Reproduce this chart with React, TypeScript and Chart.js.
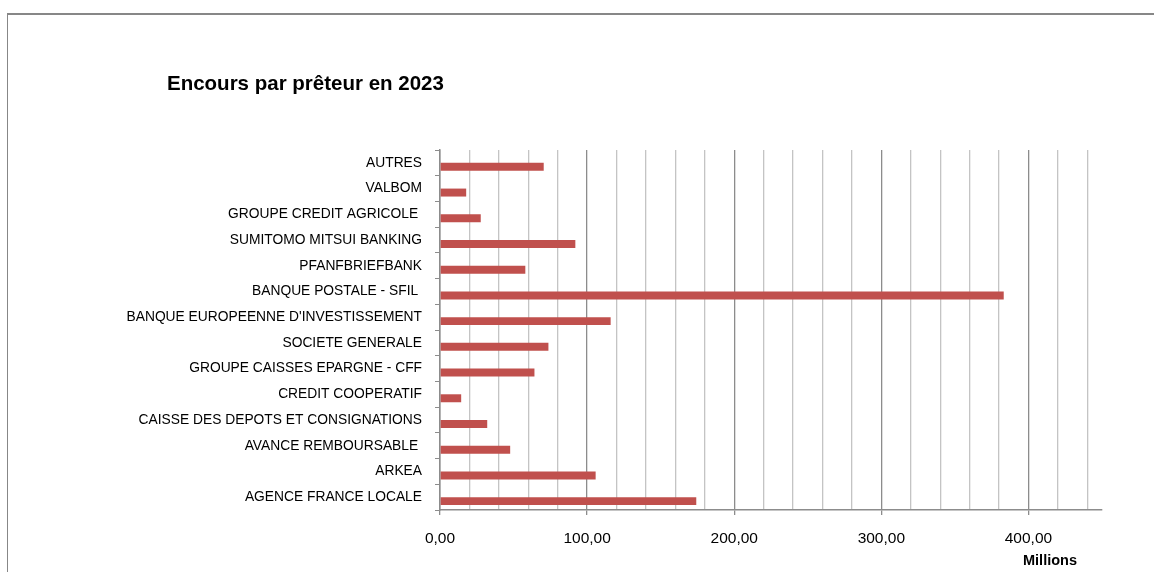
import React, { useEffect, useRef } from 'react';
import { Chart, registerables } from 'chart.js';

Chart.register(...registerables);

const chartTitle = 'Encours par prêteur en 2023';
const unitLabel = 'Millions';

const categories = [
  'AUTRES',
  'VALBOM',
  'GROUPE CREDIT AGRICOLE ',
  'SUMITOMO MITSUI BANKING',
  'PFANFBRIEFBANK',
  'BANQUE POSTALE - SFIL ',
  "BANQUE EUROPEENNE D'INVESTISSEMENT",
  'SOCIETE GENERALE',
  'GROUPE CAISSES EPARGNE - CFF',
  'CREDIT COOPERATIF',
  'CAISSE DES DEPOTS ET CONSIGNATIONS',
  'AVANCE REMBOURSABLE ',
  'ARKEA',
  'AGENCE FRANCE LOCALE',
];

const encours = [70.5, 17.8, 27.7, 92.0, 58.0, 383.2, 116.0, 73.7, 64.2, 14.4, 32.1, 47.7, 105.8, 174.2];

// empty companion series (as in the original spreadsheet chart)
const emptySeries = [null, null, null, null, null, null, null, null, null, null, null, null, null, null];

const xMin = 0;
const xMax = 450;
const minorStep = 20;
const majorStep = 100;

const SANS = '"Liberation Sans", Arial, sans-serif';

const textPlugin = {
  id: 'extraText',
  afterDraw(chart: any) {
    const { ctx } = chart;
    const xs = chart.scales.x;
    ctx.save();
    ctx.fillStyle = '#000';
    // chart title
    ctx.font = 'bold 20.5px ' + SANS;
    ctx.textAlign = 'left';
    ctx.textBaseline = 'middle';
    ctx.fillText(chartTitle, 167, 84);
    // unit label under the value axis
    ctx.font = 'bold 14.5px ' + SANS;
    ctx.textAlign = 'center';
    ctx.fillText(unitLabel, xs.right - 52, 561);
    ctx.restore();
  },
};

export default function App() {
  const ref = useRef<HTMLCanvasElement | null>(null);

  useEffect(() => {
    if (!ref.current) return;
    const chart = new Chart(ref.current, {
      type: 'bar',
      data: {
        labels: categories,
        datasets: [
          {
            label: '',
            data: emptySeries as any,
            backgroundColor: '#C0504D',
          },
          {
            label: 'Encours',
            data: encours,
            backgroundColor: '#C0504D',
            borderWidth: 0,
          },
        ],
      },
      options: {
        indexAxis: 'y',
        animation: false,
        responsive: false,
        maintainAspectRatio: false,
        categoryPercentage: 0.62,
        barPercentage: 1.0,
        layout: { padding: { left: 40, right: 52, top: 150, bottom: 0 } },
        plugins: {
          legend: { display: false },
          tooltip: { enabled: false },
          title: { display: false },
        },
        scales: {
          x: {
            type: 'linear',
            min: xMin,
            max: xMax,
            afterFit: (scale: any) => {
              scale.height = 62;
            },
            ticks: {
              stepSize: minorStep,
              includeBounds: false,
              autoSkip: false,
              maxRotation: 0,
              padding: 14,
              color: '#000',
              font: { family: SANS, size: 15.5 },
              callback: (v: any) =>
                Number(v) % majorStep === 0
                  ? Number(v).toFixed(2).replace('.', ',')
                  : '',
            },
            grid: {
              drawOnChartArea: true,
              tickLength: 5,
              color: (c: any) =>
                c.tick && c.tick.value % majorStep === 0 ? '#8c8c8c' : '#c4c4c4',
              tickColor: (c: any) =>
                c.tick && c.tick.value % majorStep === 0 ? '#8c8c8c' : 'rgba(0,0,0,0)',
              lineWidth: 1.3,
            },
            border: { display: true, color: '#8c8c8c', width: 1.5 },
          },
          y: {
            type: 'category',
            afterFit: (scale: any) => {
              scale.width = 400;
            },
            ticks: {
              autoSkip: false,
              padding: 13,
              color: '#000',
              font: { family: SANS, size: 13.8 },
            },
            grid: {
              drawOnChartArea: false,
              offset: true,
              tickLength: 5,
              tickColor: '#8c8c8c',
            },
            border: { display: true, color: '#8c8c8c', width: 1.5 },
          },
        },
      },
      plugins: [textPlugin],
    });
    return () => chart.destroy();
  }, []);

  return (
    <div style={{ position: 'absolute', left: 0, top: 0, width: 1154, height: 572, background: '#fff' }}>
      <div
        style={{
          position: 'absolute',
          left: 7,
          top: 13,
          right: 0,
          bottom: 0,
          borderTop: '2px solid #878787',
          borderLeft: '1.5px solid #878787',
        }}
      />
      <canvas ref={ref} width={1154} height={572} style={{ position: 'absolute', left: 0, top: 0 }} />
    </div>
  );
}
